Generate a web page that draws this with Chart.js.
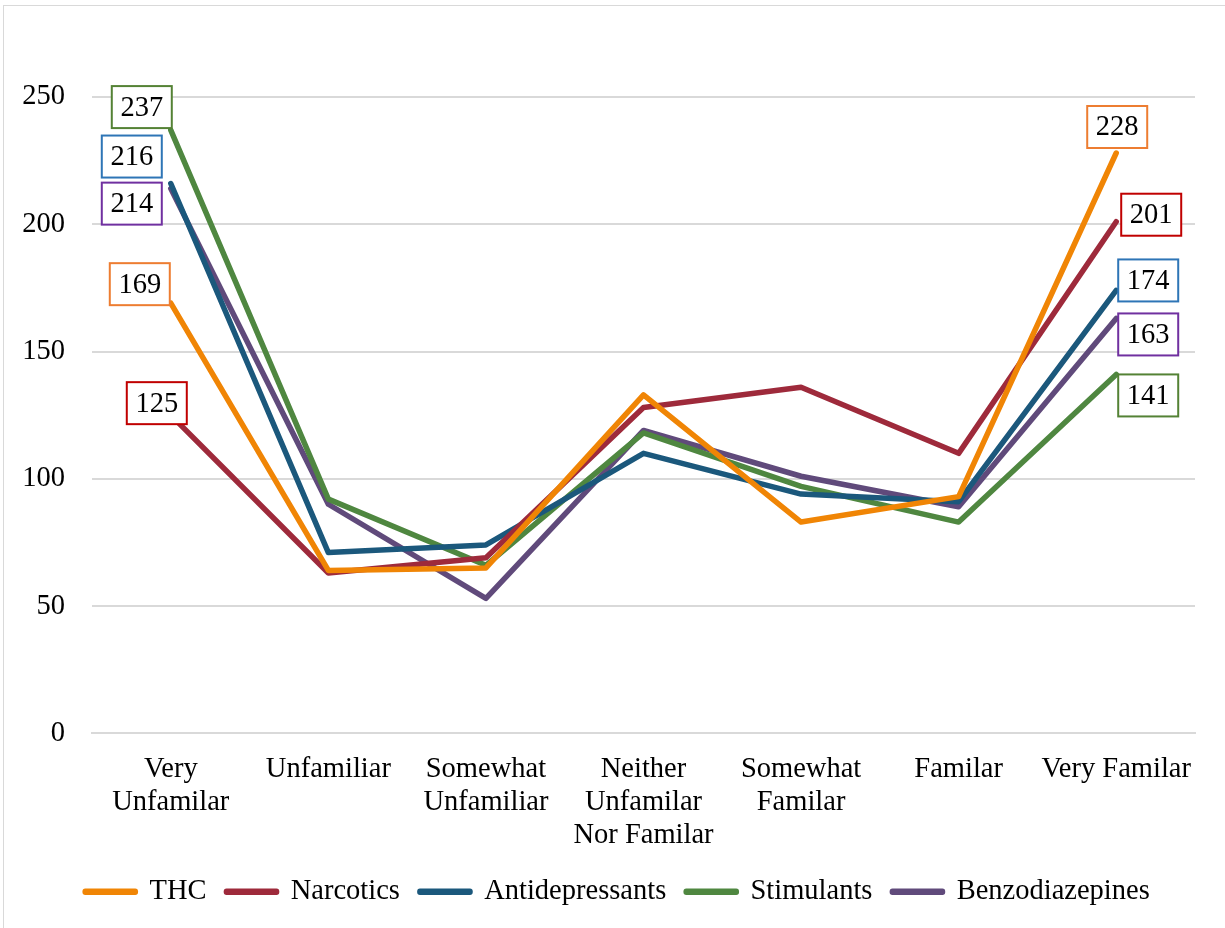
<!DOCTYPE html>
<html>
<head>
<meta charset="utf-8">
<script src="https://cdn.jsdelivr.net/npm/chart.js@4/dist/chart.umd.min.js"></script>
<style>
  body { margin: 0; background: #fff; }
  #wrap { position: relative; width: 1225px; height: 928px; }
</style>
</head>
<body>
<div id="wrap"><canvas id="line-chart" width="1225" height="928"></canvas></div>
<script>
// categories and values
var labelList = [["Very", "Unfamilar"], "Unfamiliar", ["Somewhat", "Unfamiliar"],
    ["Neither", "Unfamilar", "Nor Familar"], ["Somewhat", "Familar"], "Familar", "Very Familar"];
var thcData = [169, 64, 65, 133, 83, 93, 228];
var narcoticsData = [125, 63, 69, 128, 136, 110, 201];
var antidepData = [216, 71, 74, 110, 94, 91, 174];
var stimulantData = [237, 92, 66, 118, 97, 83, 141];
var benzoData = [214, 90, 53, 119, 101, 89, 163];
var yTicks = [0, 50, 100, 150, 200, 250];

var fontFamily = "'Liberation Serif', 'Times New Roman', serif";
var fontSize = 28.5;

// where each end label box sits relative to its point: [first point, last point] as [dx, dy]
var labelPlace = [
    {border: "#ED7D31", first: [-31, -19], last: [1, -26]},
    {border: "#C00000", first: [-14, -12], last: [35, -7]},
    {border: "#2E75B6", first: [-39, -27], last: [32, -10]},
    {border: "#548235", first: [-29, -23], last: [32, 21]},
    {border: "#7030A0", first: [-39, 15], last: [32, 16]}
];

function series(label, color, data) {
    return {
        label: label,
        data: data,
        borderColor: color,
        backgroundColor: color,
        borderWidth: 5.5,
        borderCapStyle: "round",
        borderJoinStyle: "round",
        pointRadius: 0,
        pointHoverRadius: 0,
        tension: 0,
        fill: false
    };
}

var endLabels = {
    id: "endLabels",
    afterDatasetsDraw: function (chart) {
        var ctx = chart.ctx;
        ctx.save();
        ctx.font = fontSize + "px " + fontFamily;
        ctx.textAlign = "center";
        ctx.textBaseline = "middle";
        chart.data.datasets.forEach(function (ds, i) {
            var meta = chart.getDatasetMeta(i);
            var last = ds.data.length - 1;
            [[0, labelPlace[i].first], [last, labelPlace[i].last]].forEach(function (p) {
                var pt = meta.data[p[0]];
                var cx = pt.x + p[1][0], cy = pt.y + p[1][1];
                ctx.fillStyle = "#fff";
                ctx.fillRect(cx - 30, cy - 21, 60, 42);
                ctx.lineWidth = 2;
                ctx.strokeStyle = labelPlace[i].border;
                ctx.strokeRect(cx - 30, cy - 21, 60, 42);
                ctx.fillStyle = "#000";
                ctx.fillText(String(ds.data[p[0]]), cx, cy + 1);
            });
        });
        ctx.restore();
    }
};

var frame = {
    id: "frame",
    beforeDraw: function (chart) {
        var ctx = chart.ctx;
        ctx.save();
        ctx.fillStyle = "#fff";
        ctx.fillRect(0, 0, chart.width, chart.height);
        ctx.strokeStyle = "#D9D9D9";
        ctx.lineWidth = 1;
        ctx.strokeRect(3.5, 5.5, chart.width, chart.height);
        ctx.restore();
    },
    // legend sits a little right of centre, as in the original
    afterLayout: function (chart) {
        if (chart.legend) chart.legend.left = 40;
    }
};

new Chart(document.getElementById("line-chart"), {
    type: "line",
    data: {
        labels: labelList,
        datasets: [
            series("THC", "#F08505", thcData),
            series("Narcotics", "#9E2A3B", narcoticsData),
            series("Antidepressants", "#1B587C", antidepData),
            series("Stimulants", "#4F8740", stimulantData),
            series("Benzodiazepines", "#604A7B", benzoData)
        ]
    },
    options: {
        responsive: false,
        animation: false,
        layout: {padding: {top: 97, right: 30, left: 0, bottom: 12}},
        scales: {
            x: {
                offset: true,
                afterFit: function (scale) { scale.height -= 15; },
                grid: {display: false, drawTicks: false},
                border: {display: true, color: "#D9D9D9", width: 2},
                ticks: {
                    color: "#000",
                    padding: 20,
                    maxRotation: 0,
                    autoSkip: false,
                    font: {family: fontFamily, size: fontSize, lineHeight: 1.16}
                }
            },
            y: {
                min: 0,
                max: 250,
                afterBuildTicks: function (scale) {
                    scale.ticks = yTicks.map(function (v) { return {value: v}; });
                },
                afterFit: function (scale) { scale.width = 92; },
                grid: {color: "#D9D9D9", lineWidth: 2, drawTicks: false},
                border: {display: false},
                ticks: {
                    color: "#000",
                    padding: 27,
                    font: {family: fontFamily, size: fontSize}
                }
            }
        },
        plugins: {
            legend: {
                position: "bottom",
                labels: {
                    color: "#000",
                    boxWidth: 50,
                    boxHeight: 1,
                    padding: 20,
                    font: {family: fontFamily, size: fontSize}
                }
            },
            tooltip: {enabled: false}
        }
    },
    plugins: [frame, endLabels]
});
</script>
</body>
</html>
